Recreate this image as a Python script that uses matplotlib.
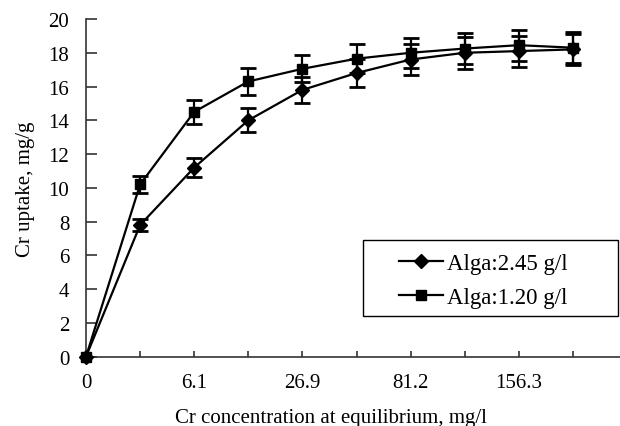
import matplotlib
matplotlib.use("Agg")
import matplotlib.pyplot as plt
from matplotlib.patches import Rectangle
import numpy as np

plt.rcParams['font.family'] = ['Liberation Serif', 'DejaVu Serif']

x_labels = ["0", "", "6.1", "", "26.9", "", "81.2", "", "156.3", ""]
alga245 = [0, 7.8, 11.2, 14.0, 15.8, 16.8, 17.6, 18.0, 18.1, 18.2]
alga245_err = [0, 0.36, 0.54, 0.7, 0.78, 0.85, 0.9, 0.94, 0.92, 0.92]
alga120 = [0, 10.2, 14.5, 16.3, 17.05, 17.65, 18.0, 18.25, 18.45, 18.3]
alga120_err = [0, 0.49, 0.72, 0.81, 0.79, 0.85, 0.9, 0.92, 0.92, 0.92]
series_names = ["Alga:2.45 g/l", "Alga:1.20 g/l"]

W, H = 620, 427
fig = plt.figure(figsize=(6.2, 4.27), dpi=100)
ax = fig.add_axes([86/W, 1-357.7/H, 1-86/W, (357.7-20)/H])

xs = np.arange(len(alga245))
for vals, errs, mk, ms, name in [(alga245, alga245_err, 'D', 7, series_names[0]),
                                 (alga120, alga120_err, 's', 7.5, series_names[1])]:
    ax.errorbar(xs, vals, yerr=errs, fmt='none', ecolor='black', elinewidth=1.6,
                capsize=5.5, capthick=2.0, zorder=2)
    ax.plot(xs, vals, color='black', lw=1.6, marker=mk, ms=ms, mfc='black',
            mec='black', label=name, zorder=3, clip_on=False)

ax.set_xlim(0, (W-86)/54.1)
ax.set_ylim(0, 20)
ax.set_yticks(np.arange(0, 21, 2))
ax.set_xticks(xs)
ax.set_xticklabels(x_labels)
for s in ['top', 'right']:
    ax.spines[s].set_visible(False)
for s in ['left', 'bottom']:
    ax.spines[s].set_color('#333333')
    ax.spines[s].set_linewidth(1.2)
ax.tick_params(axis='y', direction='in', length=8, width=1.2, color='#333333',
               labelsize=15, pad=12)
ax.tick_params(axis='x', direction='in', length=4, width=1.2, color='#333333',
               labelsize=15, pad=12)
ax.set_ylabel("Cr uptake, mg/g", fontsize=15, labelpad=10)
fig.text(331/W, 1-423/H, "Cr concentration at equilibrium, mg/l", fontsize=15,
         ha='center', va='baseline')

# legend frame
fig.patches.append(Rectangle((363/W, 1-317/H), (618-363)/W, (317-241)/H,
                             transform=fig.transFigure, fill=False,
                             edgecolor='black', linewidth=1.0))
leg = fig.legend(loc='center left', bbox_to_anchor=(399/W, 1-281.4/H),
                 fontsize=16.5, frameon=False, handlelength=1.92,
                 handletextpad=0.17, borderpad=0, labelspacing=0.6,
                 borderaxespad=0)

fig.savefig("out.png", dpi=100)
